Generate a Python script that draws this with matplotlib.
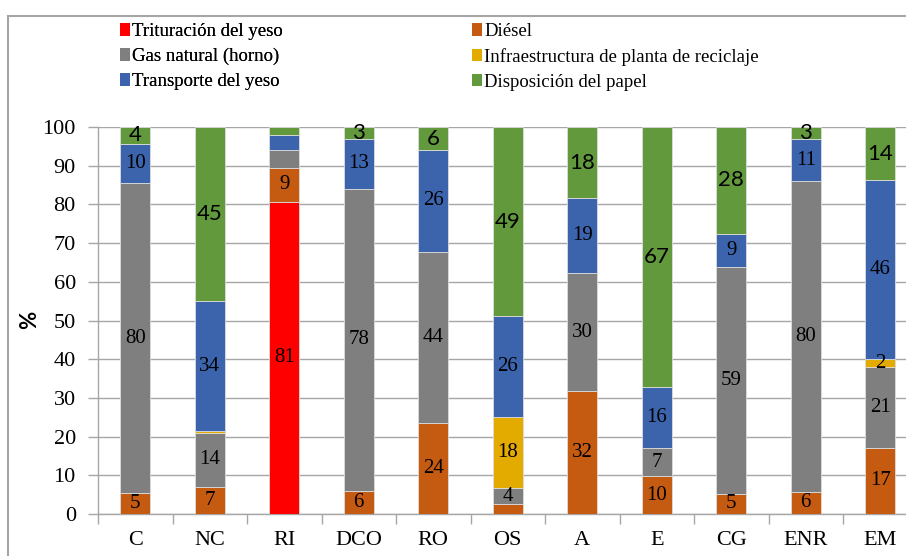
"""Stacked percentage bars of impact contributions per scenario."""

from __future__ import annotations

import matplotlib

matplotlib.use("Agg")

import matplotlib.pyplot as plt
import numpy as np
from matplotlib.patches import Patch, Rectangle

OUTPUT_PATH = "out.png"

CATEGORIES = ["C", "NC", "RI", "DCO", "RO", "OS", "A", "E", "CG", "ENR", "EM"]

TRITURACION = [0, 0, 80.7, 0, 0, 0, 0, 0, 0, 0, 0]
DIESEL = [5.3, 7.0, 8.7, 5.9, 23.6, 2.6, 31.8, 9.7, 5.2, 5.8, 17.1]
GAS_NATURAL = [80.2, 14.0, 4.7, 78.2, 44.2, 4.0, 30.4, 7.3, 58.6, 80.3, 20.8]
INFRAESTRUCTURA = [0, 0.4, 0, 0, 0, 18.4, 0, 0, 0, 0, 2.2]
TRANSPORTE = [10.2, 33.6, 3.9, 12.8, 26.2, 26.1, 19.4, 15.9, 8.6, 10.7, 46.2]
PAPEL = [4.3, 45.0, 2.0, 3.1, 6.0, 48.9, 18.4, 67.1, 27.6, 3.2, 13.7]

SERIES_NAMES = [
    "Trituración del yeso",
    "Diésel",
    "Gas natural (horno)",
    "Infraestructura de planta de reciclaje",
    "Transporte del yeso",
    "Disposición del papel",
]
SERIES_VALUES = [TRITURACION, DIESEL, GAS_NATURAL, INFRAESTRUCTURA, TRANSPORTE, PAPEL]
COLORS = ["#ff0000", "#c55a11", "#7f7f7f", "#e3aa00", "#3c64ad", "#62993c"]

# segments left without a value label
HIDDEN_LABELS = {(1, "OS"), (2, "RI"), (4, "RI"), (5, "RI")}

SERIF = "Liberation Serif"
SANS = "Lato"
GRID_GRAY = "#a6a6a6"

plt.rcParams["font.family"] = [SERIF, "DejaVu Serif"]


def plot_results() -> None:
    fig = plt.figure(figsize=(9.06, 5.56), dpi=100)
    ax = fig.add_axes([98 / 906, 1 - 514 / 556, 819.5 / 906, 387 / 556])

    x = np.arange(len(CATEGORIES))
    bottom = np.zeros(len(CATEGORIES))
    for idx, (values, color) in enumerate(zip(SERIES_VALUES, COLORS)):
        vals = np.array(values, dtype=float)
        ax.bar(x, vals, 0.4, bottom=bottom, color=color,
               edgecolor="#dcdcdc", linewidth=0.6, zorder=3)
        for i, v in enumerate(vals):
            if v <= 1 or (idx, CATEGORIES[i]) in HIDDEN_LABELS:
                continue
            yc = bottom[i] + v / 2
            if idx == 5:
                ax.text(x[i], yc, f"{v:.0f}", ha="center", va="center",
                        family=SANS, fontsize=16, zorder=4)
            else:
                ax.text(x[i], yc, f"{v:.0f}", ha="center", va="center",
                        fontsize=15, zorder=4)
        bottom += vals

    ax.set_xlim(-0.5, len(CATEGORIES) - 0.5)
    ax.set_ylim(0, 100)
    ax.set_yticks(range(0, 101, 10))
    ax.set_xticks(x)
    ax.set_xticklabels(CATEGORIES)
    ax.set_xticks(np.arange(-0.5, len(CATEGORIES)), minor=True)

    ax.tick_params(axis="both", labelsize=16)
    ax.tick_params(axis="x", which="major", length=0, pad=12)
    ax.tick_params(axis="x", which="minor", length=7, width=1, color=GRID_GRAY)
    ax.tick_params(axis="y", length=7, width=1, color=GRID_GRAY, pad=9)

    ax.grid(axis="y", color=GRID_GRAY, linewidth=1.0, zorder=0)
    ax.set_axisbelow(True)
    for side in ("top", "right"):
        ax.spines[side].set_visible(False)
    for side in ("left", "bottom"):
        ax.spines[side].set_color(GRID_GRAY)
        ax.spines[side].set_linewidth(1.0)

    fig.text(30 / 906, 1 - 320 / 556, "%", rotation=90, ha="center", va="center",
             family=SANS, fontweight="bold", fontsize=16)

    handles = [Patch(facecolor=c, edgecolor="none") for c in COLORS]
    legend_kw = dict(frameon=False, loc="upper left", borderpad=0, borderaxespad=0,
                     handlelength=0.55, handleheight=0.65, handletextpad=0.1,
                     labelspacing=0.42, fontsize=13.5)
    left_idx = [0, 2, 4]
    right_idx = [1, 3, 5]
    top = 1 - 23 / 556
    leg1 = fig.legend([handles[i] for i in left_idx], [SERIES_NAMES[i] for i in left_idx],
                      bbox_to_anchor=(120 / 906, top), **legend_kw)
    fig.add_artist(leg1)
    fig.legend([handles[i] for i in right_idx], [SERIES_NAMES[i] for i in right_idx],
               bbox_to_anchor=(472 / 906, top), **legend_kw)

    # chart area border
    fig.patches.append(Rectangle((8 / 906, -0.1), 1.2, 1 - 16 / 556 + 0.1,
                                 transform=fig.transFigure, fill=False,
                                 edgecolor=GRID_GRAY, linewidth=1.5))

    fig.savefig(OUTPUT_PATH, dpi=100)
    print(f"Chart saved to {OUTPUT_PATH}")


if __name__ == "__main__":
    plot_results()
